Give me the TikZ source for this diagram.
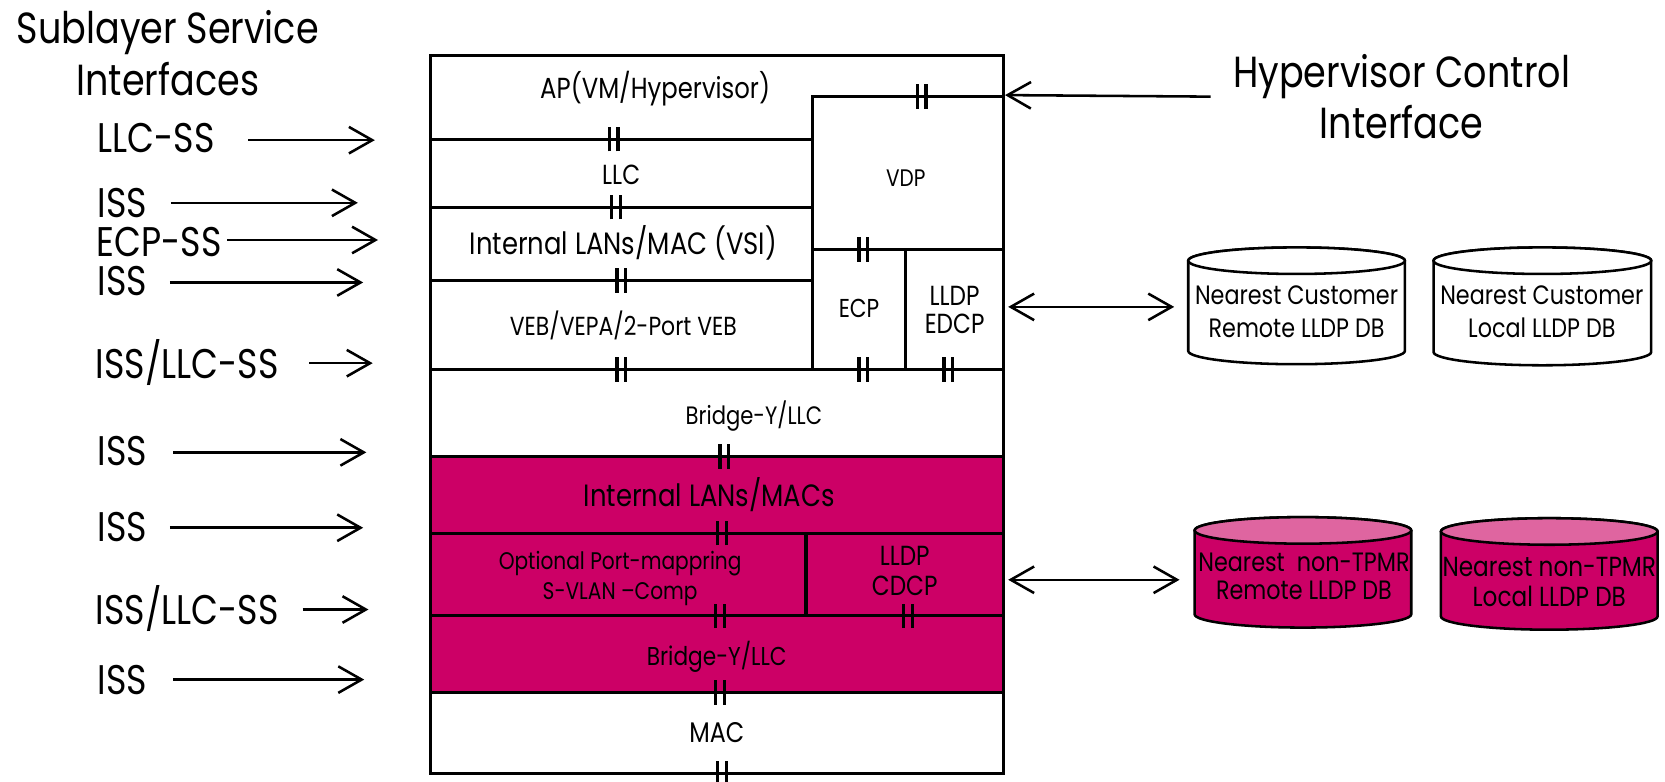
\documentclass[tikz,border=0pt]{standalone}
\usepackage{fontspec}
\setmainfont[FakeStretch=0.84]{Poppins}
\usetikzlibrary{arrows.meta,fit}
\definecolor{hotbody}{HTML}{CC0066}
\definecolor{hottop}{HTML}{DF65A0}

\tikzset{
  layerbox/.style={draw, line width=2.9pt, inner sep=0pt, fill=white},
  hotbox/.style={layerbox, fill=hotbody},
  fs/.style 2 args={font=\fontsize{#1}{#2}\selectfont},
  lbl/.style={inner sep=0pt, align=center},
  side/.style={inner sep=0pt, anchor=base west, fs={39}{46}},
  sarrow/.style={line width=2.4pt, -{Straight Barb[length=22pt,width=25pt]}},
  dblarrow/.style={line width=2.4pt, {Straight Barb[length=22pt,width=25pt]}-{Straight Barb[length=22pt,width=25pt]}},
  drumline/.style={line width=2.4pt},
  sap/.pic={\draw[line width=3pt] (-4pt,-11.5pt) -- (-4pt,11.5pt) (4pt,-11.5pt) -- (4pt,11.5pt);}
}

% database drum: name, left, right, top, bottom, body colour, lid colour
\newcommand\dbdrum[7]{%
  \pgfmathsetmacro\drumrx{(#3-#2)/2}%
  \pgfmathsetmacro\drumcx{(#3+#2)/2}%
  \draw[drumline, fill=#6] (#2,#4+12.5) -- (#2,#5-12.5)
    arc[start angle=180, end angle=360, x radius=\drumrx pt, y radius=12.5pt]
    -- (#3,#4+12.5)
    arc[start angle=0, end angle=180, x radius=\drumrx pt, y radius=12.5pt] -- cycle;
  \draw[drumline, fill=#7] (\drumcx,#4+12.5) ellipse[x radius=\drumrx pt, y radius=12.5pt];
  \node[inner sep=0pt, fit={(#2,#4)(#3,#5)}] (#1) {};
}

\begin{document}
\begin{tikzpicture}[x=1pt, y=-1pt]
\useasboundingbox (0,0) rectangle (1568,736);

% protocol stack
\node[layerbox, fit={(405,52)(945,131)}] (ap) {};
\node[layerbox, fit={(765,91)(945,235)}] (vdp) {};
\node[layerbox, fit={(405,131)(765,195)}] (llc) {};
\node[layerbox, fit={(405,195)(765,264)}] (vsi) {};
\node[layerbox, fit={(405,264)(765,348)}] (veb) {};
\node[layerbox, fit={(765,235)(853,348)}] (ecp) {};
\node[layerbox, fit={(853,235)(945,348)}] (edcp) {};
\node[layerbox, fit={(405,348)(945,430)}] (bridgeA) {};
\node[hotbox, fit={(405,430)(945,502)}] (ilans) {};
\node[hotbox, fit={(405,502)(759,580)}] (svlan) {};
\node[hotbox, fit={(759,502)(945,580)}] (cdcp) {};
\node[hotbox, fit={(405,580)(945,652)}] (bridgeB) {};
\node[layerbox, fit={(405,652)(945,728)}] (mac) {};

% layer names
\node[lbl, fs={27.3}{31}] (aptxt) at (617,83) {AP(VM/Hypervisor)};
\node[lbl, fs={26}{30}] (llctxt) at (585,165) {LLC};
\node[lbl, fs={29}{33}] (vsitxt) at (587,229) {Internal LANs/MAC (VSI)};
\node[lbl, fs={24.6}{28}] (vebtxt) at (587,306) {VEB/VEPA/2-Port VEB};
\node[lbl, fs={22.5}{26}] (vdptxt) at (853,168) {VDP};
\node[lbl, fs={24.4}{28}] (ecptxt) at (809,290) {ECP};
\node[lbl, fs={26}{27}] (edcptxt) at (899,292) {LLDP\\EDCP};
\node[lbl, fs={23.7}{27}] (bridgeAtxt) at (710,392) {Bridge-Y/LLC};
\node[lbl, fs={29}{33}] (ilanstxt) at (668,466) {Internal LANs/MACs};
\node[lbl, fs={22.6}{28}] (svlantxt) at (584,545) {Optional Port-mappring\\S-VLAN --Comp};
\node[lbl, fs={26}{28}] (cdcptxt) at (852,538) {LLDP\\CDCP};
\node[lbl, fs={24.3}{28}] (bridgeBtxt) at (675,619) {Bridge-Y/LLC};
\node[lbl, fs={26.7}{30}] (mactxt) at (675,690) {MAC};

% service access points
\foreach \px/\py in {578/131, 580/195, 585/264, 585/348, 868/91, 813/235,
                     813/348, 893/348, 682/430, 680/502, 678/580, 855/580,
                     678/652, 680/728}
  \pic at (\px,\py) {sap};

% sublayer service interfaces
\node[lbl, anchor=north, fs={41}{49}] (sltitle) at (158,10) {Sublayer Service\\Interfaces};
\node[side] (s1) at (92,144) {LLC-SS};
\node[side] (s2) at (92,205) {ISS};
\node[side] (s3) at (91,242) {ECP-SS};
\node[side] (s4) at (92,278) {ISS};
\node[side] (s5) at (90,356) {ISS/LLC-SS};
\node[side] (s6) at (92,438) {ISS};
\node[side] (s7) at (92,510) {ISS};
\node[side] (s8) at (90,588) {ISS/LLC-SS};
\node[side] (s9) at (92,654) {ISS};

\coordinate (a1) at (234,132); \coordinate (b1) at (353,132);
\coordinate (a2) at (161,191); \coordinate (b2) at (337,191);
\coordinate (a3) at (214,226); \coordinate (b3) at (356,226);
\coordinate (a4) at (160,266); \coordinate (b4) at (342,266);
\coordinate (a5) at (291,342); \coordinate (b5) at (351,342);
\coordinate (a6) at (163,426); \coordinate (b6) at (345,426);
\coordinate (a7) at (160,497); \coordinate (b7) at (342,497);
\coordinate (a8) at (285,574); \coordinate (b8) at (347,574);
\coordinate (a9) at (163,640); \coordinate (b9) at (343,640);
\foreach \i in {1,...,9}
  \draw[sarrow] (a\i) -- (b\i);

% hypervisor control interface
\node[lbl, anchor=north, fs={41}{48}] (hci) at (1320,51) {Hypervisor Control\\Interface};
\coordinate (hcistart) at (1140,91);
\draw[sarrow] (hcistart) -- (vdp.north east);

% LLDP databases
\dbdrum{custremote}{1119}{1323}{233}{343}{white}{white}
\dbdrum{custlocal}{1350}{1555}{233}{344}{white}{white}
\dbdrum{tpmrremote}{1125}{1329}{487}{591}{hotbody}{hottop}
\dbdrum{tpmrlocal}{1357}{1561}{488}{593}{hotbody}{hottop}

\node[lbl, fs={25}{31}] (crtxt) at (1221,294) {Nearest Customer\\Remote LLDP DB};
\node[lbl, fs={25}{31}] (cltxt) at (1452,294) {Nearest Customer\\Local LLDP DB};
\node[lbl, fs={25}{26.5}] (trtxt) at (1228,543) {Nearest\ \ non-TPMR\\Remote LLDP DB};
\node[lbl, fs={26}{29}] (tltxt) at (1459,548) {Nearest non-TPMR\\Local LLDP DB};

\draw[dblarrow] ([xshift=3pt]edcp.east |- 0,289) -- ([xshift=-13pt]custremote.west |- 0,289);
\draw[dblarrow] ([xshift=3pt]cdcp.east |- 0,546) -- ([xshift=-14pt]tpmrremote.west |- 0,546);
\end{tikzpicture}
\end{document}
